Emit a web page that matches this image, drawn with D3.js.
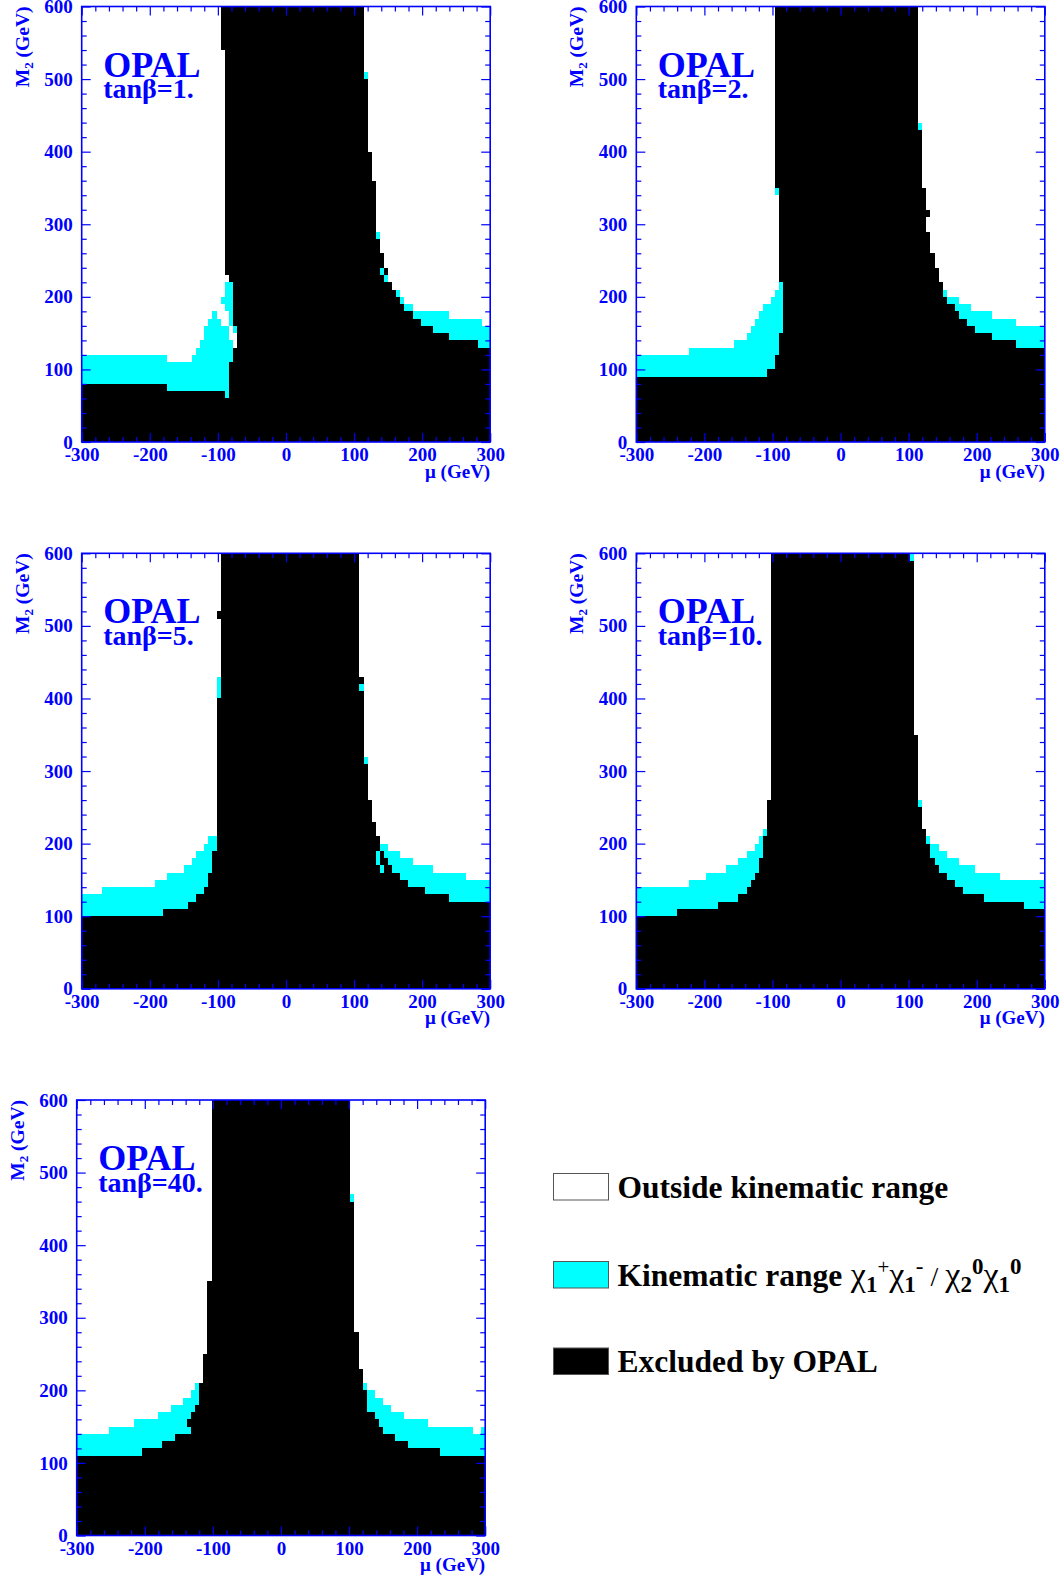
<!DOCTYPE html>
<html><head><meta charset="utf-8">
<script src="https://cdn.jsdelivr.net/npm/d3@7"></script>
<style>body{margin:0;background:#fff}svg{display:block}</style>
</head><body>
<svg id="c" width="1064" height="1579"></svg>
<script>
// ---- data ----
const muDomain = [-300, 300];
const m2Domain = [0, 600];
const xTickValues = [-300, -200, -100, 0, 100, 200, 300];
const yTickValues = [0, 100, 200, 300, 400, 500, 600];
const minorStep = 20;
const tanBetaLabels = ["tanβ=1.", "tanβ=2.", "tanβ=5.", "tanβ=10.", "tanβ=40."];

// columns: [mu from, mu to, top of excluded (black), top of kinematic range (cyan)]
const cols1 = [[-300,-174,80,120],[-174,-138,70,110],[-138,-132,70,120],[-132,-126,70,130],[-126,-120,70,140],
  [-120,-114,70,160],[-114,-108,70,170],[-108,-102,70,180],[-102,-96,70,170],[-96,-90,70,160],[-90,-84,60,160],
  [-84,-78,110,140],[-78,-72,130,130],[-72,114,600,600],[114,120,500,510],[120,126,400,400],[126,132,360,360],
  [132,138,280,290],[138,144,230,240],[144,150,220,230],[150,156,220,220],[156,162,210,210],[162,168,200,210],
  [168,174,190,200],[174,186,180,190],[186,198,170,180],[198,216,160,180],[216,240,150,180],[240,282,140,170],
  [282,288,130,170],[288,300,130,160]];
// extra cells: [mu from, mu to, M2 from, M2 to, k=excluded / c=kinematic]
const extra1 = [[-96,-90,190,200,"c"],[-96,-90,540,600,"k"],[-90,-84,180,220,"c"],[-90,-84,230,600,"k"],
  [-84,-78,160,220,"c"],[-84,-78,220,600,"k"],[-78,-72,150,160,"c"],[-78,-72,160,600,"k"],
  [138,144,240,260,"k"],[144,150,230,240,"k"]];

const cols2 = [[-300,-222,90,120],[-222,-156,90,130],[-156,-138,90,140],[-138,-132,90,150],[-132,-126,90,160],
  [-126,-120,90,170],[-120,-114,90,180],[-114,-108,90,190],[-108,-102,100,190],[-102,-96,100,200],[-96,-90,120,210],
  [-90,-84,150,220],[-84,114,600,600],[114,120,430,440],[120,126,350,350],[126,132,290,290],[132,138,260,260],
  [138,144,240,240],[144,150,220,220],[150,156,200,210],[156,168,190,200],[168,174,180,200],[174,186,170,190],
  [186,192,160,190],[192,198,160,180],[198,222,150,180],[222,258,140,170],[258,300,130,160]];
const extra2 = [[-96,-90,340,350,"c"],[-96,-90,350,600,"k"],[-90,-84,220,600,"k"],[126,132,310,320,"k"]];

const cols3 = [[-300,-270,100,130],[-270,-192,100,140],[-192,-180,100,150],[-180,-174,110,150],[-174,-150,110,160],
  [-150,-144,110,170],[-144,-138,120,170],[-138,-132,120,180],[-132,-120,130,190],[-120,-114,140,200],
  [-114,-108,160,210],[-108,-102,190,210],[-102,-96,400,430],[-96,108,600,600],[108,114,410,420],[114,120,310,320],
  [120,126,260,260],[126,132,230,230],[132,138,170,190],[138,144,160,170],[144,150,180,200],[150,156,170,190],
  [156,168,160,190],[168,180,150,180],[180,186,140,180],[186,204,140,170],[204,216,130,170],[216,240,130,160],
  [240,264,120,160],[264,300,120,150]];
const extra3 = [[-102,-96,510,520,"k"],[108,114,420,430,"k"],[132,138,190,210,"k"],[138,144,170,190,"k"],[138,144,190,200,"c"]];

const cols4 = [[-300,-240,100,140],[-240,-222,110,140],[-222,-198,110,150],[-198,-180,110,160],[-180,-168,120,160],
  [-168,-150,120,170],[-150,-138,130,180],[-138,-132,140,190],[-132,-126,150,190],[-126,-120,160,200],
  [-120,-114,180,210],[-114,-108,210,220],[-108,-102,260,260],[-102,102,600,600],[102,108,590,600],[108,114,350,350],
  [114,120,250,260],[120,126,220,220],[126,132,200,210],[132,138,180,200],[138,144,170,200],[144,156,160,190],
  [156,168,150,180],[168,174,140,180],[174,180,140,170],[180,198,130,170],[198,210,130,160],[210,234,120,160],
  [234,270,120,150],[270,300,110,150]];
const extra4 = [];

const cols5 = [[-300,-252,110,140],[-252,-216,110,150],[-216,-204,110,160],[-204,-180,120,160],[-180,-174,120,170],
  [-174,-162,130,170],[-162,-156,130,180],[-156,-144,140,180],[-144,-132,140,190],[-132,-126,170,200],
  [-126,-120,180,210],[-120,-114,210,210],[-114,-108,250,250],[-108,-102,350,350],[-102,102,600,600],
  [102,108,460,470],[108,114,280,280],[114,120,230,230],[120,126,200,210],[126,138,170,200],[138,144,160,190],
  [144,150,150,190],[150,162,140,180],[162,168,140,170],[168,180,130,170],[180,186,130,160],[186,216,120,160],
  [216,234,120,150],[234,282,110,150],[282,294,110,140],[294,300,110,150]];
const extra5 = [[-138,-132,150,160,"k"]];

const legendLabels = ["Outside kinematic range", "Kinematic range", "Excluded by OPAL"];

// ---- layout ----
const W = 408.5, H = 435.5;
const panelOrigins = [[81.7,6.5],[636.3,6.5],[81.7,553.3],[636.3,553.3],[76.7,1100]];
const panelCols = [cols1, cols2, cols3, cols4, cols5];
const panelExtra = [extra1, extra2, extra3, extra4, extra5];
const BLUE = "#0000ff", CYAN = "#00ffff", BLACK = "#000000";
const FONT = "'Liberation Serif','Times New Roman',serif";

const svg = d3.select("#c");
const x = d3.scaleLinear().domain(muDomain).range([0, W]);
const y = d3.scaleLinear().domain(m2Domain).range([H, 0]);
const minorX = d3.range(muDomain[0], muDomain[1] + 1, minorStep).filter(v => !xTickValues.includes(v));
const minorY = d3.range(m2Domain[0], m2Domain[1] + 1, minorStep).filter(v => !yTickValues.includes(v));

panelOrigins.forEach((o, i) => {
  const g = svg.append("g").attr("transform", `translate(${o[0]},${o[1]})`);
  const cells = g.append("g").attr("shape-rendering", "crispEdges");
  const cols = panelCols[i];
  cells.selectAll("rect.k").data(cols).join("rect").attr("class", "k")
    .attr("x", d => x(d[0])).attr("width", d => x(d[1]) - x(d[0]))
    .attr("y", d => y(d[2])).attr("height", d => y(m2Domain[0]) - y(d[2])).attr("fill", BLACK);
  cells.selectAll("rect.c").data(cols.filter(d => d[3] > d[2])).join("rect").attr("class", "c")
    .attr("x", d => x(d[0])).attr("width", d => x(d[1]) - x(d[0]))
    .attr("y", d => y(d[3])).attr("height", d => y(d[2]) - y(d[3])).attr("fill", CYAN);
  cells.selectAll("rect.e").data(panelExtra[i]).join("rect").attr("class", "e")
    .attr("x", d => x(d[0])).attr("width", d => x(d[1]) - x(d[0]))
    .attr("y", d => y(d[3])).attr("height", d => y(d[2]) - y(d[3]))
    .attr("fill", d => d[4] === "k" ? BLACK : CYAN);

  const style = sel => {
    sel.select(".domain").remove();
    sel.selectAll("line").attr("stroke", BLUE).attr("stroke-width", 1.2);
    sel.selectAll("text").attr("fill", BLUE).attr("font-family", FONT)
      .attr("font-weight", "bold").attr("font-size", 19);
  };
  const fmt = d => String(d);
  g.append("g").call(d3.axisLeft(y).tickValues(yTickValues).tickSize(-9).tickPadding(9).tickFormat(fmt)).call(style);
  g.append("g").call(d3.axisLeft(y).tickValues(minorY).tickSize(-5).tickFormat("")).call(style);
  g.append("g").attr("transform", `translate(${W},0)`).call(d3.axisRight(y).tickValues(yTickValues).tickSize(-9).tickFormat("")).call(style);
  g.append("g").attr("transform", `translate(${W},0)`).call(d3.axisRight(y).tickValues(minorY).tickSize(-5).tickFormat("")).call(style);
  g.append("g").attr("transform", `translate(0,${H})`).call(d3.axisBottom(x).tickValues(xTickValues).tickSize(-9).tickPadding(6).tickFormat(fmt)).call(style);
  g.append("g").attr("transform", `translate(0,${H})`).call(d3.axisBottom(x).tickValues(minorX).tickSize(-5).tickFormat("")).call(style);
  g.append("g").call(d3.axisTop(x).tickValues(xTickValues).tickSize(-9).tickFormat("")).call(style);
  g.append("g").call(d3.axisTop(x).tickValues(minorX).tickSize(-5).tickFormat("")).call(style);

  g.append("rect").attr("width", W).attr("height", H).attr("fill", "none")
    .attr("stroke", BLUE).attr("stroke-width", 1.6);

  // axis titles
  g.append("text").attr("x", W).attr("y", H + 35.5).attr("text-anchor", "end")
    .attr("fill", BLUE).attr("font-family", FONT).attr("font-weight", "bold").attr("font-size", 19)
    .text("μ (GeV)");
  const yl = g.append("text").attr("transform", "translate(-53,0) rotate(-90)").attr("text-anchor", "end")
    .attr("fill", BLUE).attr("font-family", FONT).attr("font-weight", "bold").attr("font-size", 19.5);
  yl.append("tspan").text("M");
  yl.append("tspan").attr("dy", 4).attr("font-size", 13).text("2");
  yl.append("tspan").attr("dy", -4).text(" (GeV)");

  g.append("text").attr("x", 21.5).attr("y", 70).attr("fill", BLUE).attr("font-family", FONT)
    .attr("font-weight", "bold").attr("font-size", 36).text("OPAL");
  g.append("text").attr("x", 21.5).attr("y", 91.5).attr("fill", BLUE).attr("font-family", FONT)
    .attr("font-weight", "bold").attr("font-size", 28).text(tanBetaLabels[i]);
});

// ---- legend ----
const legendFills = ["#ffffff", CYAN, BLACK];
const legendY = [1173.5, 1261.5, 1348];
const lg = svg.append("g");
legendLabels.forEach((lab, i) => {
  lg.append("rect").attr("x", 553.5).attr("y", legendY[i]).attr("width", 55).attr("height", 26.5)
    .attr("fill", legendFills[i]).attr("stroke", "#555").attr("stroke-width", 1);
  const t = lg.append("text").attr("x", 617.5).attr("y", legendY[i] + 24)
    .attr("font-family", FONT).attr("font-weight", "bold").attr("font-size", 31.5).attr("fill", "#000");
  t.append("tspan").text(lab);
  if (i === 1) {
    let cur = 0;
    const add = (txt, shift, size, weight) => {
      t.append("tspan").attr("dy", shift - cur).attr("font-size", size).attr("font-weight", weight).text(txt);
      cur = shift;
    };
    add(" χ", 0, 34, "normal"); add("1", 6, 23, "bold"); add("+", -12, 21, "normal");
    add("χ", 0, 34, "normal"); add("1", 6, 23, "bold"); add("-", -12, 23, "normal");
    add(" / ", 0, 28, "normal");
    add("χ", 0, 34, "normal"); add("2", 6, 23, "bold"); add("0", -12, 23, "bold");
    add("χ", 0, 34, "normal"); add("1", 6, 23, "bold"); add("0", -12, 23, "bold");
  }
});
</script>
</body></html>
